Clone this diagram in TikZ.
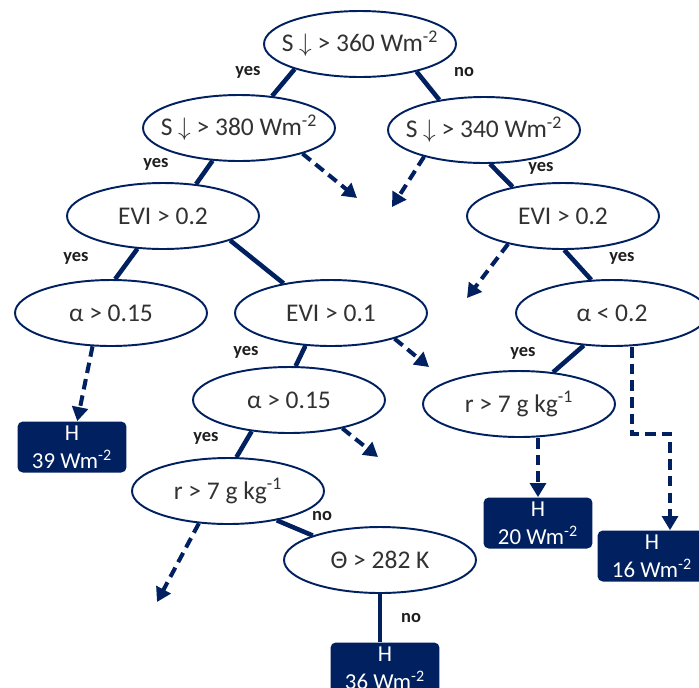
\documentclass[tikz,border=0pt]{standalone}
\usepackage{fontspec}
\setmainfont{Carlito}
\usetikzlibrary{arrows.meta,shapes.geometric}

\begin{document}
\begin{tikzpicture}[x=0.02cm,y=-0.02cm,
    split/.style={ellipse,draw=cNavy,line width=1.1pt,fill=white,
      minimum width=3.84cm,minimum height=1.32cm,inner xsep=-0.35cm,inner ysep=1pt,
      text=cText,font=\fontsize{14.5}{16}\selectfont},
    leaf/.style={rectangle,rounded corners=3pt,fill=cNavy,text=white,
      minimum width=2.18cm,minimum height=1.02cm,align=center,inner sep=1pt,
      font=\fontsize{13}{16}\selectfont},
    lbl/.style={text=cLbl,inner sep=0pt,font=\fontsize{10.5}{12}\selectfont\bfseries},
    branch/.style={cNavy,line width=2.6pt},
    dangle/.style={cNavy,line width=2.3pt,dash pattern=on 6pt off 3.5pt,
      -{Triangle[length=8pt,width=9pt]}}]
  \definecolor{cNavy}{RGB}{0,32,96}
  \definecolor{cText}{RGB}{50,50,50}
  \definecolor{cLbl}{RGB}{30,30,30}

  \clip (0,0) rectangle (699,687);

  % split nodes
  \node[split] (s360) at (360,44) {S $\downarrow$ > 360 Wm\textsuperscript{-2}};
  \node[split] (s380) at (239,128) {S $\downarrow$ > 380 Wm\textsuperscript{-2}};
  \node[split] (s340) at (484,130) {S $\downarrow$ > 340 Wm\textsuperscript{-2}};
  \node[split] (eviL) at (163,216) {EVI > 0.2};
  \node[split] (eviR) at (563,216) {EVI > 0.2};
  \node[split] (albL) at (111,313) {α > 0.15};
  \node[split] (evi01) at (331,313) {EVI > 0.1};
  \node[split] (albR) at (612,313) {α < 0.2};
  \node[split] (albM) at (289,400) {α > 0.15};
  \node[split] (humR) at (519,404) {r > 7 g kg\textsuperscript{-1}};
  \node[split] (humL) at (228,491) {r > 7 g kg\textsuperscript{-1}};
  \node[split] (temp) at (380,560) {Θ > 282 K};

  % leaves
  \node[leaf] (h39) at (72,447) {H\\39 Wm\textsuperscript{-2}};
  \node[leaf] (h20) at (538,523) {H\\20 Wm\textsuperscript{-2}};
  \node[leaf] (h16) at (652,556) {H\\16 Wm\textsuperscript{-2}};
  \node[leaf] (h36) at (385,668) {H\\36 Wm\textsuperscript{-2}};

  % open ends of the dashed branches
  \coordinate (o1) at (357,198);
  \coordinate (o2) at (392,207);
  \coordinate (o3) at (467,298);
  \coordinate (o4) at (429,367);
  \coordinate (o5) at (378,457);
  \coordinate (o6) at (157,602);

  % --- followed branches ---
  \draw[branch] (s360.201) -- (s380.44);
  \draw[branch] (s360.334) -- (s340.146);
  \draw[branch] (s380.231) -- (eviL.44);
  \draw[branch] (s340.280) -- (eviR.150);
  \draw[branch] (eviL.232) -- (albL.83);
  \draw[branch] (eviL.340) -- (evi01.148);
  \draw[branch] (eviR.272) -- (albR.122);
  \draw[branch] (evi01.232) -- (albM.79);
  \draw[branch] (albR.229) -- (humR.43);
  \draw[branch] (albM.220) -- (humL.76);
  \draw[branch] (humL.329) -- (temp.160);
  \draw[branch] (temp.south) -- (temp.south |- h36.north);

  % --- other branches ---
  \draw[dangle] (s380.338) -- (o1);
  \draw[dangle] (s340.204) -- (o2);
  \draw[dangle] (eviR.207) -- (o3);
  \draw[dangle] (albL.241) -- (h39);
  \draw[dangle] (evi01.338) -- (o4);
  \draw[dangle] (albM.332) -- (o5);
  \draw[dangle] (h20.north |- humR.south) -- (h20.north);
  \draw[dangle] ([xshift=0.4cm]albR.south) -- ++(0,87) -| ([xshift=0.36cm]h16.north);
  \draw[dangle] (humL.228) -- (o6);

  % yes / no labels
  \node[lbl] (l1) at (248,72) {yes};
  \node[lbl] (l2) at (464,72) {no};
  \node[lbl] (l3) at (156,164) {yes};
  \node[lbl] (l4) at (541,168) {yes};
  \node[lbl] (l5) at (76,258) {yes};
  \node[lbl] (l6) at (622,258) {yes};
  \node[lbl] (l7) at (246,352) {yes};
  \node[lbl] (l8) at (523,353) {yes};
  \node[lbl] (l9) at (206,438) {yes};
  \node[lbl] (l10) at (322,516) {no};
  \node[lbl] (l11) at (411,618) {no};
\end{tikzpicture}
\end{document}
